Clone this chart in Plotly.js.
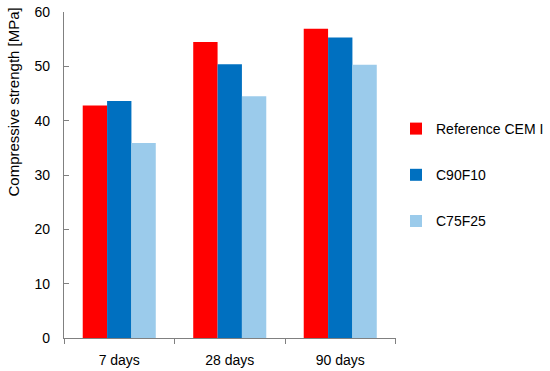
<!DOCTYPE html>
<html>
<head>
<meta charset="utf-8">
<script src="https://cdn.plot.ly/plotly-3.0.1.min.js"></script>
<style>html,body{margin:0;padding:0;background:#fff;}#chart{width:550px;height:371px;}</style>
</head>
<body>
<div id="chart"></div>
<script>
const categories = ["7 days", "28 days", "90 days"];
const seriesNames = ["Reference CEM I", "C90F10", "C75F25"];
const referenceCEMI = [42.8, 54.5, 56.9];
const c90f10 = [43.6, 50.4, 55.3];
const c75f25 = [35.9, 44.5, 50.3];
const yTicks = [0, 10, 20, 30, 40, 50, 60];
const yTitle = "Compressive strength [MPa]";

const colors = ["#FF0000", "#0070C0", "#9BCBEB"];
const values = [referenceCEMI, c90f10, c75f25];

const traces = values.map((v, i) => ({
  type: "bar",
  name: seriesNames[i],
  x: categories,
  y: v,
  marker: {color: colors[i], line: {width: 0}},
  legendgroup: "g" + i,
  hoverinfo: "x+y+name"
}));

const font = "Liberation Sans, Arial, sans-serif";
const layout = {
  width: 550, height: 371,
  margin: {l: 63.5, r: 146.5, t: 12, b: 33, pad: 0},
  paper_bgcolor: "#fff", plot_bgcolor: "#fff",
  barmode: "group",
  bargap: 0.339,
  bargroupgap: 0,
  font: {family: font, size: 14, color: "#000"},
  xaxis: {
    type: "category",
    showline: true, linecolor: "#808080", linewidth: 1.2,
    ticks: "outside", tickson: "boundaries", ticklen: 5, tickcolor: "#808080", tickwidth: 1,
    showgrid: false, zeroline: false,
    tickfont: {family: font, size: 14, color: "#000"},
    ticklabelstandoff: 9
  },
  yaxis: {
    range: [0, 60],
    tickvals: yTicks,
    ticktext: yTicks.map(String),
    showline: true, linecolor: "#808080", linewidth: 1.2,
    ticks: "inside", ticklen: 5, tickcolor: "#808080", tickwidth: 1,
    showgrid: false, zeroline: false,
    tickfont: {family: font, size: 14, color: "#000"},
    ticklabelstandoff: 10
  },
  annotations: [{
    text: yTitle,
    xref: "paper", yref: "paper",
    x: 0, xshift: -51,
    y: 1, yshift: 6,
    xanchor: "center", yanchor: "top",
    textangle: -90,
    showarrow: false,
    font: {family: font, size: 15, color: "#000"}
  }],
  showlegend: true,
  legend: {
    xref: "container", yref: "container",
    x: 396 / 550, xanchor: "left",
    y: 1 - 113 / 371, yanchor: "top",
    font: {family: font, size: 14, color: "#000"},
    tracegroupgap: 25,
    traceorder: "grouped",
    bgcolor: "rgba(0,0,0,0)", borderwidth: 0
  }
};

Plotly.newPlot("chart", traces, layout, {displayModeBar: false, staticPlot: true});
</script>
</body>
</html>
